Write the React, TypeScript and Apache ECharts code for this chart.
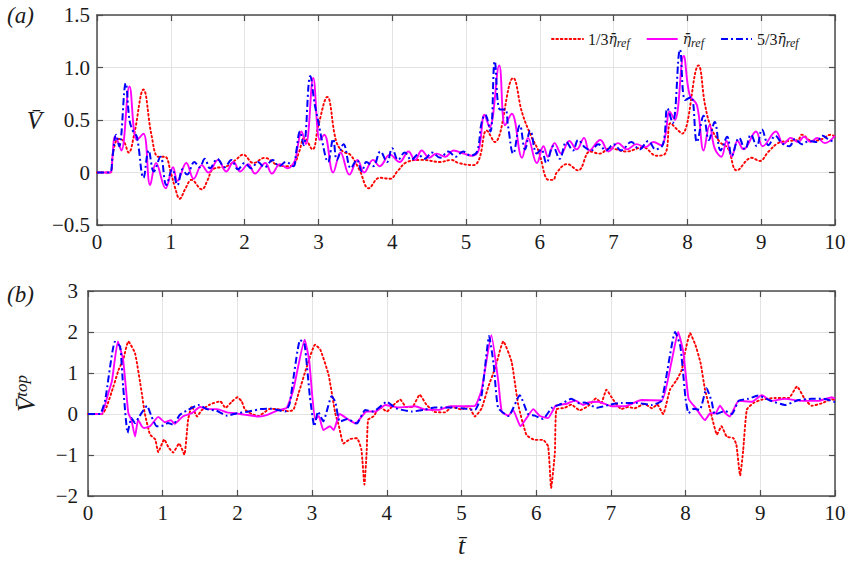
import React, { useEffect, useRef } from "react";
import * as echarts from "echarts";

// ---------- data ----------
const xTicks = [0, 1, 2, 3, 4, 5, 6, 7, 8, 9, 10];
const yTicksTop = [-0.5, 0, 0.5, 1.0, 1.5];
const yTicksBottom = [-2, -1, 0, 1, 2, 3];

const seriesNames = ["1/3η̄ref", "η̄ref", "5/3η̄ref"];

// panel (a): V̄
const redTop: [number, number][] = [
  [0, 0], [0.18, 0], [0.22, 0.2], [0.29, 0.32], [0.36, 0.3], [0.43, 0.19], [0.5, 0.35], [0.63, 0.79], [0.74, 0.35],
  [0.83, 0.15], [0.92, 0.15], [1.0, 0.0], [1.06, -0.15], [1.12, -0.25], [1.2, -0.15], [1.28, -0.07], [1.42, -0.16],
  [1.5, -0.07], [1.57, 0.03], [1.76, 0.06], [1.88, 0.12], [1.98, 0.17], [2.12, 0.09], [2.27, 0.14], [2.45, 0.07],
  [2.58, 0.06], [2.67, 0.08], [2.74, 0.2], [2.81, 0.33], [2.92, 0.22], [3.0, 0.45], [3.12, 0.72], [3.24, 0.3],
  [3.33, 0.2], [3.43, 0.17], [3.56, 0.02], [3.68, -0.15], [3.83, -0.05], [3.97, -0.06], [4.08, 0.02], [4.2, 0.1],
  [4.41, 0.12], [4.65, 0.1], [4.8, 0.12], [4.9, 0.09], [5.1, 0.07], [5.18, 0.13], [5.28, 0.4], [5.39, 0.29],
  [5.64, 0.9], [5.76, 0.57], [5.88, 0.35], [5.98, 0.21], [6.12, -0.07], [6.18, -0.07], [6.23, 0.0], [6.37, 0.08],
  [6.52, 0.02], [6.68, 0.2], [6.81, 0.18], [6.95, 0.23], [7.17, 0.2], [7.4, 0.24], [7.58, 0.16], [7.7, 0.18],
  [7.77, 0.47], [7.86, 0.41], [7.93, 0.37], [8.15, 1.02], [8.24, 0.64], [8.32, 0.43], [8.44, 0.29], [8.55, 0.23],
  [8.67, 0.02], [8.87, 0.14], [8.98, 0.11], [9.1, 0.2], [9.23, 0.28], [9.37, 0.3], [9.5, 0.31], [9.55, 0.36],
  [9.69, 0.3], [9.83, 0.32], [9.94, 0.36], [10, 0.34],
];
const magentaTop: [number, number][] = [
  [0, 0], [0.18, 0], [0.21, 0.15], [0.24, 0.34], [0.28, 0.3], [0.33, 0.21], [0.44, 0.82], [0.54, 0.31], [0.63, 0.37],
  [0.72, -0.12], [0.8, 0.09], [0.93, -0.15], [1.03, 0.05], [1.09, -0.08], [1.21, 0.09], [1.31, -0.06], [1.42, 0.07],
  [1.51, 0.0], [1.64, 0.12], [1.75, 0.01], [1.85, 0.1], [1.94, 0.01], [2.05, 0.08], [2.14, -0.01], [2.28, 0.09],
  [2.37, -0.01], [2.48, 0.08], [2.58, 0.04], [2.68, 0.11], [2.72, 0.25], [2.77, 0.39], [2.83, 0.27], [2.93, 0.9],
  [3.02, 0.31], [3.08, 0.36], [3.2, 0.0], [3.3, 0.19], [3.42, -0.02], [3.53, 0.12], [3.62, 0.0], [3.74, 0.12],
  [3.83, 0.06], [3.97, 0.17], [4.1, 0.1], [4.22, 0.2], [4.31, 0.12], [4.4, 0.21], [4.5, 0.14], [4.6, 0.18],
  [4.72, 0.15], [4.83, 0.21], [4.97, 0.18], [5.08, 0.16], [5.17, 0.21], [5.25, 0.55], [5.32, 0.43], [5.45, 1.02],
  [5.53, 0.45], [5.62, 0.56], [5.76, 0.14], [5.84, 0.33], [5.96, 0.09], [6.05, 0.25], [6.11, 0.15], [6.2, 0.28],
  [6.29, 0.18], [6.4, 0.3], [6.5, 0.22], [6.6, 0.33], [6.67, 0.21], [6.82, 0.31], [6.93, 0.2], [7.06, 0.28],
  [7.18, 0.22], [7.31, 0.27], [7.43, 0.24], [7.54, 0.29], [7.65, 0.26], [7.7, 0.35], [7.76, 0.58], [7.83, 0.5],
  [7.95, 1.11], [8.03, 0.74], [8.13, 0.64], [8.22, 0.21], [8.3, 0.45], [8.37, 0.23], [8.46, 0.15], [8.53, 0.3],
  [8.6, 0.15], [8.68, 0.3], [8.76, 0.22], [8.93, 0.39], [9.02, 0.25], [9.2, 0.39], [9.3, 0.27], [9.4, 0.33],
  [9.5, 0.29], [9.58, 0.34], [9.67, 0.29], [9.76, 0.33], [9.86, 0.28], [10, 0.35],
];
const blueTop: [number, number][] = [
  [0, 0], [0.17, 0], [0.21, 0.15], [0.26, 0.36], [0.3, 0.25], [0.39, 0.85], [0.44, 0.5], [0.49, 0.39], [0.54, 0.34],
  [0.63, -0.05], [0.7, 0.21], [0.77, 0.01], [0.86, 0.15], [0.94, -0.12], [1.02, 0.03], [1.09, -0.12], [1.16, 0.03],
  [1.22, -0.02], [1.32, 0.1], [1.39, 0.05], [1.46, 0.13], [1.53, 0.04], [1.63, 0.13], [1.73, 0.05], [1.82, 0.12],
  [1.91, 0.03], [2.0, 0.09], [2.09, 0.04], [2.18, 0.1], [2.27, 0.05], [2.38, 0.12], [2.47, 0.06], [2.56, 0.1],
  [2.66, 0.06], [2.7, 0.2], [2.75, 0.39], [2.8, 0.26], [2.89, 0.92], [2.95, 0.65], [3.0, 0.48], [3.05, 0.3],
  [3.13, 0.1], [3.2, 0.32], [3.25, 0.12], [3.34, 0.27], [3.44, 0.04], [3.52, 0.12], [3.59, 0.01], [3.65, 0.1],
  [3.74, 0.06], [3.84, 0.2], [3.93, 0.1], [4.0, 0.23], [4.08, 0.12], [4.17, 0.19], [4.26, 0.12], [4.35, 0.17],
  [4.44, 0.13], [4.54, 0.19], [4.65, 0.14], [4.76, 0.2], [4.86, 0.15], [4.96, 0.2], [5.06, 0.16], [5.15, 0.2],
  [5.21, 0.47], [5.26, 0.55], [5.33, 0.39], [5.39, 1.06], [5.46, 0.6], [5.53, 0.6], [5.57, 0.44], [5.64, 0.18],
  [5.73, 0.45], [5.8, 0.22], [5.87, 0.4], [5.96, 0.18], [6.02, 0.22], [6.09, 0.09], [6.18, 0.25], [6.27, 0.13],
  [6.36, 0.29], [6.45, 0.21], [6.52, 0.31], [6.61, 0.24], [6.7, 0.21], [6.79, 0.27], [6.9, 0.21], [7.0, 0.27],
  [7.1, 0.21], [7.24, 0.29], [7.35, 0.22], [7.47, 0.3], [7.57, 0.22], [7.67, 0.27], [7.73, 0.61], [7.8, 0.47],
  [7.9, 1.17], [7.97, 0.69], [8.05, 0.72], [8.13, 0.29], [8.22, 0.54], [8.29, 0.31], [8.37, 0.48], [8.45, 0.21],
  [8.54, 0.34], [8.6, 0.16], [8.7, 0.33], [8.78, 0.22], [8.86, 0.36], [8.94, 0.25], [9.01, 0.41], [9.1, 0.26],
  [9.19, 0.35], [9.28, 0.28], [9.38, 0.25], [9.46, 0.32], [9.55, 0.27], [9.65, 0.3], [9.75, 0.29], [9.83, 0.35],
  [9.92, 0.31], [10, 0.29],
];

// panel (b): V̄^top
const redBottom: [number, number][] = [
  [0, 0], [0.19, 0], [0.25, 0.18], [0.34, 0.67], [0.41, 1.08], [0.47, 1.32], [0.54, 1.77], [0.63, 1.48], [0.72, 0.51],
  [0.76, 0.02], [0.83, -0.5], [0.9, -0.62], [0.94, -0.93], [1.02, -0.62], [1.08, -0.82], [1.14, -0.94], [1.22, -0.72],
  [1.29, -0.99], [1.34, -0.14], [1.39, 0.19], [1.46, -0.06], [1.52, 0.09], [1.63, 0.23], [1.77, 0.31], [1.84, 0.15],
  [1.93, 0.31], [2.0, 0.41], [2.06, 0.3], [2.1, 0.11], [2.19, 0.0], [2.28, -0.05], [2.44, 0.13], [2.56, 0.11],
  [2.68, 0.07], [2.75, 0.1], [2.82, 0.51], [2.93, 1.16], [3.04, 1.69], [3.11, 1.57], [3.22, 0.96], [3.31, 0.02],
  [3.36, -0.3], [3.42, -0.72], [3.51, -0.61], [3.6, -0.59], [3.66, -0.87], [3.7, -1.72], [3.73, -0.94], [3.75, -0.14],
  [3.82, -0.06], [3.91, 0.17], [4.0, 0.06], [4.09, 0.22], [4.18, 0.35], [4.26, 0.17], [4.34, 0.17], [4.44, 0.47],
  [4.53, 0.23], [4.64, 0.05], [4.78, 0.04], [4.87, 0.17], [5.0, 0.11], [5.09, 0.19], [5.18, -0.06], [5.27, 0.14],
  [5.36, 0.67], [5.45, 1.12], [5.56, 1.77], [5.67, 1.28], [5.76, 0.22], [5.87, -0.51], [5.98, -0.63], [6.09, -0.63],
  [6.16, -0.79], [6.2, -1.8], [6.25, -0.94], [6.27, 0.11], [6.38, 0.15], [6.47, 0.23], [6.58, 0.09], [6.7, 0.2],
  [6.8, 0.38], [6.87, 0.27], [6.94, 0.59], [7.03, 0.35], [7.14, 0.12], [7.23, 0.17], [7.32, 0.14], [7.45, 0.25],
  [7.55, 0.14], [7.62, 0.23], [7.7, 0.0], [7.79, 0.59], [7.88, 0.83], [7.95, 1.08], [7.99, 1.48], [8.06, 1.97],
  [8.13, 1.69], [8.2, 1.25], [8.26, 0.59], [8.35, -0.06], [8.42, -0.5], [8.48, -0.3], [8.55, -0.55], [8.64, -0.59],
  [8.68, -0.75], [8.73, -1.5], [8.77, -0.9], [8.82, 0.11], [8.91, 0.27], [9.02, 0.35], [9.2, 0.39], [9.38, 0.39],
  [9.49, 0.67], [9.6, 0.35], [9.69, 0.2], [9.82, 0.26], [9.96, 0.36], [10, 0.34],
];
const magentaBottom: [number, number][] = [
  [0, 0], [0.18, 0], [0.27, 0.5], [0.32, 0.8], [0.4, 1.77], [0.47, 1.32], [0.54, 0.02], [0.58, -0.14], [0.63, -0.55],
  [0.67, -0.14], [0.72, -0.3], [0.75, -0.34], [0.83, -0.3], [0.94, -0.07], [1.03, -0.2], [1.11, -0.15], [1.16, -0.24],
  [1.27, -0.06], [1.39, 0.02], [1.5, 0.17], [1.61, 0.12], [1.73, 0.12], [1.86, 0.04], [2.0, 0.01], [2.11, -0.02],
  [2.29, -0.06], [2.4, -0.02], [2.54, 0.09], [2.66, 0.15], [2.75, 0.6], [2.9, 1.81], [2.96, 1.32], [3.04, -0.14],
  [3.09, -0.05], [3.15, -0.39], [3.24, -0.3], [3.29, -0.39], [3.37, 0.0], [3.49, -0.14], [3.58, -0.23], [3.73, 0.06],
  [3.85, 0.06], [3.98, 0.22], [4.15, 0.16], [4.38, 0.19], [4.51, 0.11], [4.69, 0.1], [4.85, 0.19], [5.0, 0.19],
  [5.18, 0.2], [5.27, 0.6], [5.4, 1.92], [5.49, 0.83], [5.54, 0.05], [5.63, -0.04], [5.69, 0.1], [5.79, -0.3],
  [5.87, -0.1], [5.96, 0.12], [6.05, -0.05], [6.16, -0.1], [6.26, 0.2], [6.41, 0.25], [6.52, 0.33], [6.63, 0.22],
  [6.7, 0.28], [6.83, 0.3], [7.01, 0.19], [7.19, 0.19], [7.41, 0.34], [7.68, 0.33], [7.81, 1.26], [7.9, 2.0],
  [7.97, 1.5], [8.04, 0.37], [8.13, 0.16], [8.26, -0.15], [8.33, 0.02], [8.4, 0.02], [8.46, 0.2], [8.53, 0.02],
  [8.59, -0.06], [8.71, 0.32], [8.89, 0.3], [9.02, 0.46], [9.15, 0.32], [9.33, 0.37], [9.55, 0.32], [9.78, 0.32],
  [9.96, 0.41], [10, 0.37],
];
const blueBottom: [number, number][] = [
  [0, 0], [0.16, 0], [0.23, 0.34], [0.36, 1.76], [0.43, 1.65], [0.47, 0.68], [0.53, -0.46], [0.58, -0.1], [0.63, -0.22],
  [0.69, -0.05], [0.79, 0.2], [0.85, -0.06], [0.92, -0.3], [1.01, -0.28], [1.07, -0.22], [1.14, -0.26], [1.23, -0.02],
  [1.34, 0.1], [1.48, 0.22], [1.59, 0.12], [1.72, 0.08], [1.86, -0.04], [2.0, 0.02], [2.15, 0.06], [2.31, 0.12],
  [2.46, 0.13], [2.64, 0.06], [2.7, 0.26], [2.84, 1.81], [2.9, 1.69], [2.97, 0.43], [3.03, -0.3], [3.08, 0.06],
  [3.15, -0.18], [3.26, 0.43], [3.31, 0.3], [3.37, -0.19], [3.47, -0.12], [3.6, -0.23], [3.71, 0.1], [3.82, 0.06],
  [4.0, 0.3], [4.12, 0.14], [4.33, 0.06], [4.5, 0.1], [4.64, 0.16], [4.85, 0.16], [5.0, 0.14], [5.18, 0.1],
  [5.27, 0.47], [5.37, 1.9], [5.43, 1.22], [5.49, 0.15], [5.63, -0.05], [5.78, 0.46], [5.89, 0.0], [5.98, -0.04],
  [6.09, -0.12], [6.21, 0.15], [6.34, 0.25], [6.47, 0.37], [6.58, 0.26], [6.65, 0.28], [6.81, 0.15], [6.99, 0.23],
  [7.14, 0.27], [7.35, 0.27], [7.55, 0.22], [7.68, 0.33], [7.86, 2.0], [7.93, 1.65], [8.0, 0.37], [8.04, 0.02],
  [8.11, 0.13], [8.19, 0.1], [8.28, 0.63], [8.35, 0.3], [8.39, -0.01], [8.53, 0.07], [8.62, 0.0], [8.71, 0.32],
  [8.84, 0.37], [8.97, 0.45], [9.13, 0.33], [9.33, 0.22], [9.51, 0.34], [9.69, 0.37], [9.85, 0.37], [10, 0.29],
];

// ---------- styling ----------
const SERIF = "Liberation Serif";
const GREEKSERIF = "DejaVu Serif";
const FRAME = "#4d4d4d";
const GRIDC = "#e3e3e3";
const INK = "#1a1a1a";
const RED = "#ff0000";
const MAGENTA = "#ff00ff";
const BLUE = "#0000ff";

const fmtTop = (v: number) => (v === 0 ? "0" : (v < 0 ? "\u2212" : "") + Math.abs(v).toFixed(1));
const fmtInt = (v: number) => (v < 0 ? "\u2212" + Math.abs(v) : String(v));

const legendRich = {
  n: { fontFamily: SERIF, fontSize: 16, color: INK, lineHeight: 20 },
  e: { fontFamily: GREEKSERIF, fontSize: 14, fontStyle: "italic", color: INK, lineHeight: 20 },
  s: { fontFamily: SERIF, fontSize: 12, fontStyle: "italic", color: INK, lineHeight: 12, verticalAlign: "bottom" },
};
const legendLabel: Record<string, string> = {
  "1/3η̄ref": "{n|1/3}{e|η̄}{s|ref}",
  "η̄ref": "{e|η̄}{s|ref}",
  "5/3η̄ref": "{n|5/3}{e|η̄}{s|ref}",
};

function App() {
  const ref = useRef<HTMLDivElement>(null);
  useEffect(() => {
    if (!ref.current) return;
    const chart = echarts.init(ref.current, undefined, { renderer: "svg" });

    const tickLabel = { fontFamily: SERIF, fontSize: 21, color: INK, fontWeight: "normal" as const };

    const mainX = (gridIndex: number, withName: boolean) => ({
      type: "value",
      gridIndex,
      min: 0,
      max: 10,
      interval: 1,
      position: "bottom",
      name: withName ? "t̄" : "",
      nameLocation: "middle",
      nameGap: 36,
      nameTextStyle: { fontFamily: SERIF, fontSize: 26, fontStyle: "italic", color: INK },
      axisLine: { show: true, onZero: false, lineStyle: { color: FRAME, width: 1.5 } },
      axisTick: { show: true, inside: true, length: 6, lineStyle: { color: FRAME, width: 1.2 } },
      axisLabel: { show: true, margin: 6, ...tickLabel, formatter: (v: number) => String(v) },
      splitLine: { show: true, lineStyle: { color: GRIDC, width: 1 } },
    });
    const mirrorX = (gridIndex: number) => ({
      type: "value",
      gridIndex,
      min: 0,
      max: 10,
      interval: 1,
      position: "top",
      axisLine: { show: true, onZero: false, lineStyle: { color: FRAME, width: 1.5 } },
      axisTick: { show: true, inside: true, length: 6, lineStyle: { color: FRAME, width: 1.2 } },
      axisLabel: { show: false },
      splitLine: { show: false },
    });
    const mirrorY = (gridIndex: number, min: number, max: number, interval: number) => ({
      type: "value",
      gridIndex,
      min,
      max,
      interval,
      position: "right",
      axisLine: { show: true, onZero: false, lineStyle: { color: FRAME, width: 1.5 } },
      axisTick: { show: true, inside: true, length: 6, lineStyle: { color: FRAME, width: 1.2 } },
      axisLabel: { show: false },
      splitLine: { show: false },
    });

    const lineSeries = (name: string, data: [number, number][], color: string, kind: string, idx: number, smooth: number) => ({
      type: "line",
      name,
      data,
      xAxisIndex: idx,
      yAxisIndex: idx,
      showSymbol: false,
      symbol: "none",
      smooth,
      color,
      itemStyle: { color, opacity: 0 },
      lineStyle:
        kind === "dot"
          ? { color, width: 1.9, type: [1.6, 2.8], cap: "round", opacity: 1 }
          : kind === "dashdot"
          ? { color, width: 2, type: [7, 3, 2, 3], opacity: 1 }
          : { color, width: 1.9, type: "solid", opacity: 1 },
      z: kind === "dot" ? 2 : kind === "solid" ? 3 : 4,
    });

    chart.setOption({
      animation: false,
      backgroundColor: "#ffffff",
      textStyle: { fontFamily: SERIF },
      grid: [
        { left: 97, top: 15, width: 738, height: 210, containLabel: false },
        { left: 88, top: 291, width: 747, height: 205, containLabel: false },
      ],
      legend: {
        show: true,
        left: 546,
        top: 26,
        itemWidth: 31,
        itemHeight: 10,
        itemGap: 16,
        data: seriesNames,
        formatter: (name: string) => legendLabel[name] || name,
        textStyle: { fontFamily: SERIF, rich: legendRich },
      },
      xAxis: [mainX(0, false), mainX(1, true), mirrorX(0), mirrorX(1)],
      yAxis: [
        {
          type: "value",
          gridIndex: 0,
          min: -0.5,
          max: 1.5,
          interval: 0.5,
          name: "V̄",
          nameLocation: "middle",
          nameRotate: 0,
          nameGap: 55,
          nameTextStyle: { fontFamily: SERIF, fontSize: 25, fontStyle: "italic", color: INK },
          axisLine: { show: true, onZero: false, lineStyle: { color: FRAME, width: 1.5 } },
          axisTick: { show: true, inside: true, length: 6, lineStyle: { color: FRAME, width: 1.2 } },
          axisLabel: { margin: 7, ...tickLabel, formatter: fmtTop },
          splitLine: { show: true, lineStyle: { color: GRIDC, width: 1 } },
        },
        {
          type: "value",
          gridIndex: 1,
          min: -2,
          max: 3,
          interval: 1,
          name: "{v|V̄}{s|top}",
          nameLocation: "middle",
          nameRotate: 90,
          nameGap: 48,
          nameTextStyle: {
            fontFamily: SERIF,
            rich: {
              v: { fontFamily: SERIF, fontSize: 25, fontStyle: "italic", color: INK, lineHeight: 27 },
              s: { fontFamily: SERIF, fontSize: 17, fontStyle: "italic", color: INK, lineHeight: 17, verticalAlign: "top" },
            },
          },
          axisLine: { show: true, onZero: false, lineStyle: { color: FRAME, width: 1.5 } },
          axisTick: { show: true, inside: true, length: 6, lineStyle: { color: FRAME, width: 1.2 } },
          axisLabel: { margin: 10, ...tickLabel, formatter: fmtInt },
          splitLine: { show: true, lineStyle: { color: GRIDC, width: 1 } },
        },
        mirrorY(0, -0.5, 1.5, 0.5),
        mirrorY(1, -2, 3, 1),
      ],
      graphic: [
        { type: "text", left: 7, top: 4, style: { text: "(a)", fontFamily: SERIF, fontSize: 23, fontStyle: "italic", fill: INK } },
        { type: "text", left: 7, top: 283, style: { text: "(b)", fontFamily: SERIF, fontSize: 23, fontStyle: "italic", fill: INK } },
      ],
      series: [
        lineSeries(seriesNames[0], redTop, RED, "dot", 0, 0.4),
        lineSeries(seriesNames[1], magentaTop, MAGENTA, "solid", 0, 0.4),
        lineSeries(seriesNames[2], blueTop, BLUE, "dashdot", 0, 0.4),
        lineSeries(seriesNames[0], redBottom, RED, "dot", 1, 0.15),
        lineSeries(seriesNames[1], magentaBottom, MAGENTA, "solid", 1, 0.15),
        lineSeries(seriesNames[2], blueBottom, BLUE, "dashdot", 1, 0.15),
      ],
    });
    return () => chart.dispose();
  }, []);
  return <div ref={ref} style={{ position: "absolute", left: 0, top: 0, width: 849, height: 563 }} />;
}

export default App;
